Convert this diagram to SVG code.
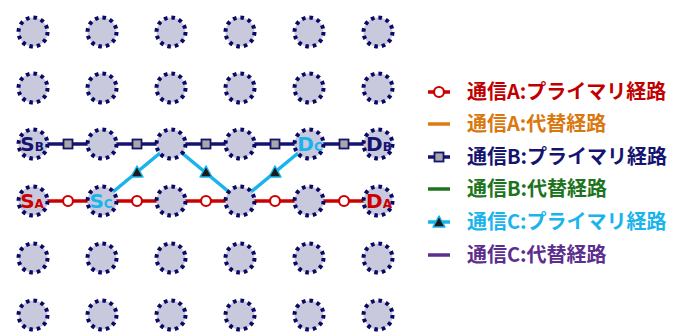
<svg xmlns="http://www.w3.org/2000/svg" width="685" height="332" viewBox="0 0 685 332">
  <defs>
    <style>
      .node { fill: #c9c9dd; stroke: #0a0a66; stroke-width: 4; stroke-dasharray: 3.6 3.99; }
      .lineA { stroke: #cc0000; stroke-width: 3.5; fill: none; }
      .lineB { stroke: #141470; stroke-width: 3.5; fill: none; }
      .lineC { stroke: #19b4ec; stroke-width: 3.5; fill: none; }
      .mkA { fill: #ffffff; stroke: #cc0000; stroke-width: 2.2; }
      .mkB { fill: #a8a8a8; stroke: #141470; stroke-width: 1.8; }
      .mkC { fill: #1a1a1a; stroke: #19b4ec; stroke-width: 1.5; stroke-linejoin: round; }
      .lbl { font-family: "DejaVu Sans", "Noto Sans", sans-serif; font-weight: bold; text-anchor: middle; }
      .lbl .sub { font-size: 12px; }
      .leg { font-family: "Noto Sans CJK JP", "Noto Sans", sans-serif; font-weight: bold; font-size: 20px; }
    </style>
    <circle id="n" r="14.5" class="node"/>
    <rect id="sq" x="-4.5" y="-4.5" width="9" height="9" class="mkB"/>
    <circle id="oc" r="5" class="mkA"/>
    <polygon id="tri" points="0,-6 6,5 -6,5" class="mkC"/>
  </defs>

  <!-- connectors -->
  <g id="connectors">
    <line class="lineB" x1="33" y1="144" x2="378" y2="144"/>
    <line class="lineA" x1="33" y1="201" x2="378" y2="201"/>
    <polyline class="lineC" points="102,201 171,144 240,201 309,144"/>
    <g id="markersB">
      <use href="#sq" x="68" y="144"/>
      <use href="#sq" x="137" y="144"/>
      <use href="#sq" x="206" y="144"/>
      <use href="#sq" x="275" y="144"/>
      <use href="#sq" x="344" y="144"/>
    </g>
    <g id="markersA">
      <use href="#oc" x="68" y="201"/>
      <use href="#oc" x="137" y="201"/>
      <use href="#oc" x="206" y="201"/>
      <use href="#oc" x="275" y="201"/>
      <use href="#oc" x="344" y="201"/>
    </g>
    <g id="markersC">
      <use href="#tri" x="137" y="172"/>
      <use href="#tri" x="206" y="172"/>
      <use href="#tri" x="275" y="172"/>
    </g>
  </g>

  <!-- node grid -->
  <g id="nodes">
    <g id="r1"><use href="#n" x="33" y="32"/><use href="#n" x="102" y="32"/><use href="#n" x="171" y="32"/><use href="#n" x="240" y="32"/><use href="#n" x="309" y="32"/><use href="#n" x="378" y="32"/></g>
    <g id="r2"><use href="#n" x="33" y="88"/><use href="#n" x="102" y="88"/><use href="#n" x="171" y="88"/><use href="#n" x="240" y="88"/><use href="#n" x="309" y="88"/><use href="#n" x="378" y="88"/></g>
    <g id="r3">
      <g id="SB"><use href="#n" x="33" y="144"/><text class="lbl" x="32" y="151" font-size="20" fill="#141470">S<tspan class="sub">B</tspan></text></g>
      <use href="#n" x="102" y="144"/><use href="#n" x="171" y="144"/><use href="#n" x="240" y="144"/>
      <g id="DC"><use href="#n" x="309" y="144"/><text class="lbl" x="310" y="151" font-size="20" fill="#19b4ec">D<tspan class="sub">C</tspan></text></g>
      <g id="DB"><use href="#n" x="378" y="144"/><text class="lbl" x="379" y="151" font-size="20" fill="#141470">D<tspan class="sub">B</tspan></text></g>
    </g>
    <g id="r4">
      <g id="SA"><use href="#n" x="33" y="201"/><text class="lbl" x="32" y="208" font-size="20" fill="#cc0000">S<tspan class="sub">A</tspan></text></g>
      <g id="SC"><use href="#n" x="102" y="201"/><text class="lbl" x="101" y="208" font-size="20" fill="#19b4ec">S<tspan class="sub">C</tspan></text></g>
      <use href="#n" x="171" y="201"/><use href="#n" x="240" y="201"/><use href="#n" x="309" y="201"/>
      <g id="DA"><use href="#n" x="378" y="201"/><text class="lbl" x="379" y="208" font-size="20" fill="#cc0000">D<tspan class="sub">A</tspan></text></g>
    </g>
    <g id="r5"><use href="#n" x="33" y="258"/><use href="#n" x="102" y="258"/><use href="#n" x="171" y="258"/><use href="#n" x="240" y="258"/><use href="#n" x="309" y="258"/><use href="#n" x="378" y="258"/></g>
    <g id="r6"><use href="#n" x="33" y="315"/><use href="#n" x="102" y="315"/><use href="#n" x="171" y="315"/><use href="#n" x="240" y="315"/><use href="#n" x="309" y="315"/><use href="#n" x="378" y="315"/></g>
  </g>

  <!-- legend -->
  <g id="legend">
    <g id="legA1">
      <line x1="428" y1="92" x2="450" y2="92" stroke="#cc0000" stroke-width="3.5"/>
      <circle cx="439" cy="92" r="5" class="mkA"/>
      <text class="leg" x="467" y="99" fill="#c00000">通信A:プライマリ経路</text>
    </g>
    <g id="legA2">
      <line x1="428" y1="124" x2="450" y2="124" stroke="#e07a10" stroke-width="3.5"/>
      <text class="leg" x="467" y="131" fill="#d9780f">通信A:代替経路</text>
    </g>
    <g id="legB1">
      <line x1="428" y1="157" x2="450" y2="157" stroke="#141470" stroke-width="3.5"/>
      <rect x="434.5" y="152.5" width="9" height="9" class="mkB"/>
      <text class="leg" x="467" y="164" fill="#141470">通信B:プライマリ経路</text>
    </g>
    <g id="legB2">
      <line x1="428" y1="189" x2="450" y2="189" stroke="#1d741d" stroke-width="3.5"/>
      <text class="leg" x="467" y="196" fill="#1d741d">通信B:代替経路</text>
    </g>
    <g id="legC1">
      <line x1="428" y1="222" x2="450" y2="222" stroke="#19b4ec" stroke-width="3.5"/>
      <polygon points="439,216 445,227 433,227" class="mkC"/>
      <text class="leg" x="467" y="229" fill="#19b4ec">通信C:プライマリ経路</text>
    </g>
    <g id="legC2">
      <line x1="428" y1="255" x2="450" y2="255" stroke="#5c2e8e" stroke-width="3.5"/>
      <text class="leg" x="467" y="262" fill="#5c2e8e">通信C:代替経路</text>
    </g>
  </g>
</svg>
